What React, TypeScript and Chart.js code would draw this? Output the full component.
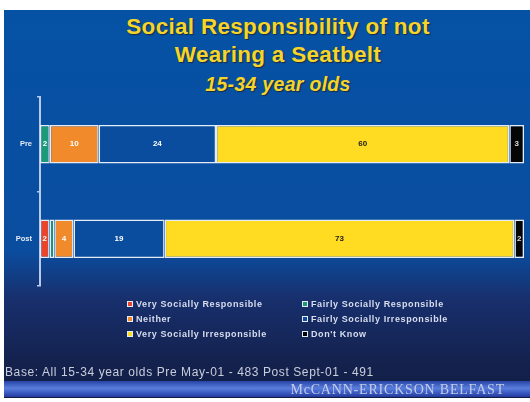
import React, { useEffect, useRef } from "react";
import { Chart, registerables } from "chart.js";

Chart.register(...registerables);

const titleLines = ["Social Responsibility of not", "Wearing a Seatbelt"];
const subtitle = "15-34 year olds";
const categories = ["Pre", "Post"];
const seriesNames = [
  "Very Socially Responsible",
  "Fairly Socially Responsible",
  "Neither",
  "Fairly Socially Irresponsible",
  "Very Socially Irresponsible",
  "Don't Know",
];
const seriesColors = ["#E8452C", "#1A9A78", "#F08A2A", "#0A4C9E", "#FFDC22", "#050505"];
const labelColors = ["#FFFFFF", "#FFFFFF", "#FFFFFF", "#FFFFFF", "#1A1A1A", "#DDDDDD"];
const veryResponsible = [0, 2];
const fairlyResponsible = [2, 1];
const neither = [10, 4];
const fairlyIrresponsible = [24, 19];
const veryIrresponsible = [60, 73];
const dontKnow = [3, 2];
const baseNote = "Base: All 15-34 year olds Pre May-01 - 483 Post Sept-01 - 491";
const agency = "McCANN-ERICKSON BELFAST";

const allSeries = [veryResponsible, fairlyResponsible, neither, fairlyIrresponsible, veryIrresponsible, dontKnow];
const rowTotals = categories.map((_, i) => allSeries.reduce((s, arr) => s + arr[i], 0));

const labelPlugin = {
  id: "segLabels",
  afterDatasetsDraw(chart: any) {
    const ctx = chart.ctx;
    ctx.save();
    ctx.font = "bold 8px Arial, 'Liberation Sans', sans-serif";
    ctx.textAlign = "center";
    ctx.textBaseline = "middle";
    chart.data.datasets.forEach((ds: any, di: number) => {
      const meta = chart.getDatasetMeta(di);
      meta.data.forEach((bar: any, i: number) => {
        const raw = ds.raw[i];
        if (raw < 2) return;
        ctx.fillStyle = labelColors[di];
        ctx.fillText(String(raw), bar.x - (bar.x - bar.base) / 2, bar.y);
      });
    });
    ctx.restore();
  },
};

export default function App() {
  const ref = useRef<HTMLCanvasElement>(null);
  useEffect(() => {
    const chart = new Chart(ref.current!, {
      type: "bar",
      data: {
        labels: categories,
        datasets: allSeries.map((arr, di) => ({
          label: seriesNames[di],
          data: arr.map((v, i) => (v / rowTotals[i]) * 100),
          raw: arr,
          backgroundColor: seriesColors[di],
          borderColor: "#E6ECF6",
          borderWidth: 1.5,
          borderSkipped: false,
          barPercentage: 0.41,
          categoryPercentage: 1,
        })) as any,
      },
      options: {
        indexAxis: "y",
        animation: false,
        responsive: false,
        maintainAspectRatio: false,
        layout: { padding: { top: 97, bottom: 116, right: 6, left: 0 } },
        plugins: { legend: { display: false }, tooltip: { enabled: false }, title: { display: false } },
        scales: {
          x: { stacked: true, min: 0, max: 100, display: false },
          y: {
            stacked: true,
            afterFit: (s: any) => {
              s.width = 40;
            },
            border: { display: true, color: "#B9C9EA", width: 2 },
            grid: { drawOnChartArea: false, drawTicks: true, tickLength: 3, color: "#B9C9EA", lineWidth: 1.5 },
            ticks: { color: "#E8ECF6", font: { size: 7.5, weight: "bold", family: "Arial, 'Liberation Sans', sans-serif" }, padding: 5 },
          },
        },
      },
      plugins: [labelPlugin],
    });
    return () => chart.destroy();
  }, []);

  const sans = "Arial, 'Liberation Sans', sans-serif";
  const titleStyle: React.CSSProperties = {
    position: "absolute",
    left: 4,
    width: 548,
    textAlign: "center",
    color: "#F6D42A",
    fontFamily: sans,
    fontWeight: "bold",
    fontSize: 22.5,
    letterSpacing: 0.3,
    lineHeight: "26px",
    textShadow: "1px 1px 1px #1A2A40",
    whiteSpace: "nowrap",
  };
  return (
    <div style={{ position: "fixed", left: 0, top: 0, width: 530, height: 402, background: "#FFFFFF", overflow: "hidden" }}>
      <div
        style={{
          position: "absolute",
          left: 4,
          top: 10,
          width: 526,
          height: 388,
          background: "linear-gradient(to bottom, #0552A5 0%, #0A4D9F 62%, #18306E 74%, #14224F 90%, #111D44 100%)",
        }}
      />
      <div
        style={{
          position: "absolute",
          left: 4,
          top: 381,
          width: 526,
          height: 16,
          background: "linear-gradient(to bottom, #2643A6 0%, #5A7EDC 45%, #3E5FC6 70%, #22399A 100%)",
        }}
      />
      <div style={{ ...titleStyle, top: 14 }}>{titleLines[0]}</div>
      <div style={{ ...titleStyle, top: 42 }}>{titleLines[1]}</div>
      <div style={{ ...titleStyle, top: 71, fontSize: 19.5, fontStyle: "italic" }}>{subtitle}</div>
      <canvas ref={ref} width={530} height={402} style={{ position: "absolute", left: 0, top: 0 }} />
      <div
        style={{
          position: "absolute",
          left: 127,
          top: 298,
          display: "grid",
          gridTemplateColumns: "175px 180px",
          rowGap: 3,
          fontFamily: sans,
          fontWeight: "bold",
          fontSize: 9,
          letterSpacing: 0.6,
          lineHeight: "12px",
          color: "#D8DEEE",
        }}
      >
        {seriesNames.map((n, i) => (
          <div key={n} style={{ display: "flex", alignItems: "center", whiteSpace: "nowrap" }}>
            <span
              style={{
                display: "inline-block",
                width: 4,
                height: 4,
                background: seriesColors[i],
                border: "1px solid #E6ECF6",
                marginRight: 3,
              }}
            />
            {n}
          </div>
        ))}
      </div>
      <div
        style={{
          position: "absolute",
          left: 5,
          top: 365,
          fontFamily: sans,
          fontSize: 12,
          letterSpacing: 0.6,
          color: "#C8CEDC",
          whiteSpace: "nowrap",
        }}
      >
        {baseNote}
      </div>
      <div
        style={{
          position: "absolute",
          right: 25,
          top: 381,
          fontFamily: "'Liberation Serif', 'Times New Roman', serif",
          fontSize: 14,
          letterSpacing: 0.8,
          lineHeight: "17px",
          color: "#C4CCE6",
          whiteSpace: "nowrap",
        }}
      >
        {agency}
      </div>
    </div>
  );
}
